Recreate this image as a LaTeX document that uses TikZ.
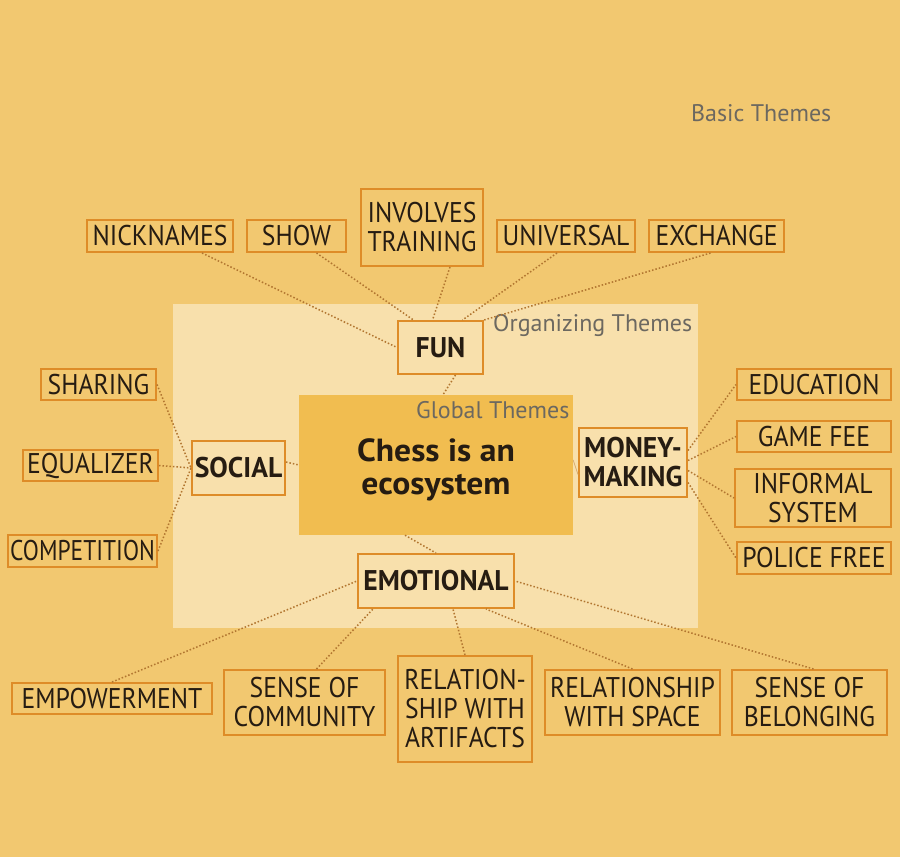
\documentclass[tikz,border=0pt]{standalone}
\usepackage{graphicx}
\usepackage{fontspec}
\setmainfont{PT Sans}[FakeStretch=0.9]
\newfontfamily\orgfont{PT Sans}[FakeStretch=0.97]
\newfontfamily\corefont{PT Sans}[FakeStretch=1.05]
\newfontfamily\labelfont{PT Sans}
\usetikzlibrary{calc}
\definecolor{bg}{RGB}{242,200,112}
\definecolor{pane}{RGB}{248,224,172}
\definecolor{core}{RGB}{241,189,80}
\definecolor{edge}{RGB}{222,140,40}
\definecolor{link}{RGB}{178,118,48}
\definecolor{faint}{RGB}{214,168,108}
\definecolor{note}{RGB}{108,104,96}
\definecolor{ink}{RGB}{38,28,18}
\tikzset{
  bx/.style 2 args={minimum width=#1pt, minimum height=#2pt},
  basic/.style={draw=edge, line width=2pt, fill=bg, inner sep=0pt, align=center,
    text=ink, font=\fontsize{28.5}{29}\selectfont},
  organizing/.style={draw=edge, line width=2pt, fill=pane, inner sep=0pt, align=center,
    text=ink, font=\orgfont\bfseries\fontsize{28.5}{29}\selectfont},
  themelabel/.style={text=note, inner sep=0pt, anchor=west, font=\labelfont\fontsize{24}{25}\selectfont},
  link/.style={draw=link, line width=1.5pt, dash pattern=on 1.5pt off 2pt},
}
\begin{document}
\begin{tikzpicture}[x=1pt,y=-1pt]
  % canvas and theme panes
  \fill[bg] (0,0) rectangle (900,857);
  \useasboundingbox (0,0) rectangle (900,857);
  \fill[pane] (173,304) rectangle (698,628);
  \node[fill=core, minimum width=274pt, minimum height=140pt, inner sep=0pt] (core) at (436,465) {};
  \node[align=center, text=ink, font=\corefont\bfseries\fontsize{32}{33}\selectfont] (coretext) at (436,470) {Chess is an\\ecosystem};

  \node[themelabel] (lblbasic) at (691,113) {Basic Themes};
  \node[themelabel] (lblorg) at (493,325) {Organizing Themes};
  \node[themelabel] (lblglobal) at (416,410) {Global Themes};

  % organizing themes
  \node[organizing, bx={85}{53}] (fun) at (440.5,347.5) {FUN};
  \node[organizing, bx={93}{54}] (social) at (238.5,468) {SOCIAL};
  \node[organizing, bx={108}{69}] (money) at (633,462.5) {MONEY-\\MAKING};
  \node[organizing, bx={156}{54}] (emo) at (436,581) {EMOTIONAL};

  % basic themes: fun
  \node[basic, bx={146}{32}] (nick) at (160,236) {NICKNAMES};
  \node[basic, bx={99}{32}] (show) at (296.5,236) {SHOW};
  \node[basic, bx={122}{77}] (train) at (422,227.5) {INVOLVES\\TRAINING};
  \node[basic, bx={138}{32}] (univ) at (566,236) {UNIVERSAL};
  \node[basic, bx={135}{32}] (exch) at (716.5,236) {EXCHANGE};

  % basic themes: social
  \node[basic, bx={115}{31}] (share) at (98.5,384.5) {SHARING};
  \node[basic, bx={135}{31}] (equal) at (90.5,465.5) {EQUALIZER};
  \node[basic, bx={149}{32}] (comp) at (82.5,551) {\scalebox{0.915}[1]{COMPETITION}};

  % basic themes: money-making
  \node[basic, bx={154}{31}] (edu) at (814,384.5) {EDUCATION};
  \node[basic, bx={154}{31}] (fee) at (814,436.5) {GAME FEE};
  \node[basic, bx={156}{58}] (informal) at (813,498) {INFORMAL\\SYSTEM};
  \node[basic, bx={154}{32}] (police) at (814,558) {POLICE FREE};

  % basic themes: emotional
  \node[basic, bx={200}{31}] (empower) at (112,698.5) {EMPOWERMENT};
  \node[basic, bx={161}{65}] (community) at (304.5,702.5) {SENSE OF\\COMMUNITY};
  \node[basic, bx={134}{106}] (artifacts) at (465,709) {RELATION-\\SHIP WITH\\ARTIFACTS};
  \node[basic, bx={175}{65}] (space) at (632.5,702.5) {RELATIONSHIP\\WITH SPACE};
  \node[basic, bx={155}{65}] (belong) at (809.5,702.5) {SENSE OF\\BELONGING};

  % links: fun
  \draw[link] ($(nick.south)+(42,0)$) -- (fun.west);
  \draw[link] ($(show.south)+(20,0)$) -- ($(fun.north)+(-27,0)$);
  \draw[link] ($(train.south)+(28,0)$) -- ($(fun.north)+(-8,0)$);
  \draw[link] ($(univ.south)+(-9,0)$) -- ($(fun.north)+(22,0)$);
  \draw[link] ($(exch.south)+(-6,0)$) -- (fun.north east);
  \draw[link] ($(fun.south)+(15,0)$) -- ($(core.north)+(7,0)$);

  % links: social
  \draw[link] (share.east) -- (social.west);
  \draw[link] (equal.east) -- (social.west);
  \draw[link] (comp.east) -- (social.west);
  \draw[link] ($(social.east)+(0,-6)$) -- (core.west);

  % links: money-making
  \draw[link] ($(money.east)+(0,-12)$) -- (edu.west);
  \draw[link] ($(money.east)+(0,-2)$) -- (fee.west);
  \draw[link] ($(money.east)+(0,8)$) -- (informal.west);
  \draw[link] ($(money.east)+(0,20)$) -- (police.west);
  \draw[faint, line width=0.7pt] ($(core.east)+(0,-5)$) -- ($(money.west)+(0,12)$);

  % links: emotional
  \draw[link] ($(core.south)+(-31,0)$) -- (emo.north);
  \draw[link] (empower.north) -- (emo.west);
  \draw[link] ($(community.north)+(12,0)$) -- ($(emo.south)+(-63,0)$);
  \draw[link] (artifacts.north) -- ($(emo.south)+(17,0)$);
  \draw[link] (space.north) -- ($(emo.south)+(50,0)$);
  \draw[link] ($(belong.north)+(4,0)$) -- (emo.east);
\end{tikzpicture}
\end{document}
